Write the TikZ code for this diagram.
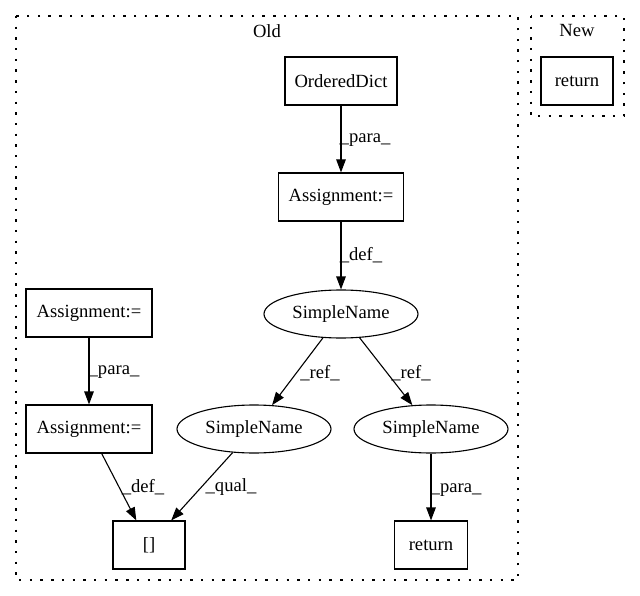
\documentclass[tikz,border=0pt]{standalone}
\usepackage{fontspec}
\setmainfont{Liberation Serif}
\usetikzlibrary{arrows.meta,shapes.geometric}
\begin{document}
\begin{tikzpicture}[x=1pt,y=-1pt,
  every node/.style={font=\fontsize{18.6}{22}\selectfont},
  boxnode/.style={draw,line width=1.1pt,rectangle,inner sep=0pt,minimum height=48pt},
  ellnode/.style={draw,line width=1.1pt,ellipse,inner sep=0pt,minimum width=154pt,minimum height=48pt},
  edge/.style={draw,line width=1.1pt,-{Triangle[length=13pt,width=9.5pt]}},
  lbl/.style={inner sep=0pt},
  cluster/.style={draw,line width=1.2pt,dash pattern=on 2.4pt off 8.3pt}]
\useasboundingbox (0,0) rectangle (640,596);
% clusters
\draw[cluster] (16,16) rectangle (518,580);
\draw[cluster] (531,16) rectangle (624,116);
\node[lbl] (oldlbl) at (267,31) {Old};
\node[lbl] (newlbl) at (577,31) {New};
% nodes
\node[boxnode,minimum width=112pt] (od) at (341,81) {OrderedDict};
\node[boxnode,minimum width=125pt] (a1) at (341,197) {Assignment:=};
\node[ellnode] (s1) at (341,314) {SimpleName};
\node[ellnode] (s2) at (254,429) {SimpleName};
\node[ellnode] (s3) at (431,429) {SimpleName};
\node[boxnode,minimum width=73pt] (ret) at (431,545) {return};
\node[boxnode,minimum width=72pt] (br) at (149,545) {[]};
\node[boxnode,minimum width=126pt] (a2) at (89,313) {Assignment:=};
\node[boxnode,minimum width=126pt] (a3) at (89,429) {Assignment:=};
\node[boxnode,minimum width=72pt] (nret) at (577,81) {return};
% edges
\draw[edge] (od) -- (a1);
\draw[edge] (a1) -- (s1);
\draw[edge] (s1) -- (s2);
\draw[edge] (s1) -- (s3);
\draw[edge] (s3) -- (ret);
\draw[edge] (a2) -- (a3);
\draw[edge] (a3) -- (br);
\draw[edge] (s2) -- (br);
% edge labels
\node[lbl] (l1) at (365,140) {\_para\_};
\node[lbl] (l2) at (361,255) {\_def\_};
\node[lbl] (l3) at (320,373) {\_ref\_};
\node[lbl] (l4) at (411,373) {\_ref\_};
\node[lbl] (l5) at (114,372) {\_para\_};
\node[lbl] (l6) at (143,487) {\_def\_};
\node[lbl] (l7) at (231,487) {\_qual\_};
\node[lbl] (l8) at (456,490) {\_para\_};
\end{tikzpicture}
\end{document}
